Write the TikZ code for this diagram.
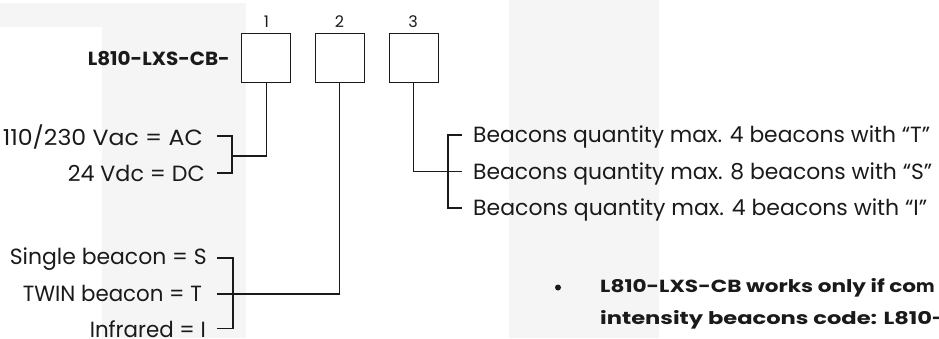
\documentclass[tikz,border=0pt]{standalone}
\usepackage{fontspec}
\usepackage{graphicx}
\setmainfont{Poppins}
\definecolor{bggrey}{HTML}{F5F5F5}
\definecolor{ink}{HTML}{1A1A1A}
\newcommand{\wfit}[2]{\resizebox{#1}{\height}{#2}}
\tikzset{
  wire/.style={line width=1.2pt, draw=ink},
  codebox/.style={draw=ink, line width=1.3pt, minimum width=49pt, minimum height=49pt, inner sep=0pt, fill=white},
  numlbl/.style={font=\fontsize{16}{16}\selectfont, text=ink, inner sep=0pt},
  optlbl/.style={font=\fontsize{22}{22}\selectfont, text=ink, inner sep=0pt},
  prefixlbl/.style={font=\fontsize{19}{19}\selectfont\bfseries, text=ink, inner sep=0pt},
  notelbl/.style={font=\fontsize{17.5}{17.5}\selectfont\bfseries, text=ink, inner sep=0pt},
}
\begin{document}
\begin{tikzpicture}[x=1pt,y=-1pt]
\useasboundingbox (0,0) rectangle (939,338);
\clip (0,0) rectangle (939,338);
% background watermark shapes
\fill[bggrey] (0,3) rectangle (246,27);
\fill[bggrey] (102,27) rectangle (246,338);
\fill[bggrey] (509,0) rectangle (659,338);

% code boxes
\node[codebox] (b1) at (266.3,57.8) {};
\node[codebox] (b2) at (339.7,57.8) {};
\node[codebox] (b3) at (413.7,57.8) {};
\node[numlbl] (n1) at (266.5,22) {1};
\node[numlbl] (n2) at (339.5,22) {2};
\node[numlbl] (n3) at (413,22) {3};
\node[prefixlbl, anchor=base east] (pre) at (230,65) {\wfit{142pt}{L810-LXS-CB-}};

% option 1 labels
\node[optlbl, anchor=base east] (ac) at (203,145) {\wfit{200pt}{110/230 Vac = AC}};
\node[optlbl, anchor=base east] (dc) at (205,181.5) {\wfit{137pt}{24 Vdc = DC}};
\coordinate (acT) at (217,136);
\coordinate (dcT) at (217,173);
\coordinate (j1) at (232,156);
\draw[wire] (acT) -| (j1) |- (dcT);
\draw[wire] (b1.south) |- (j1);

% option 2 labels
\node[optlbl, anchor=base east] (sb) at (207,264.5) {\wfit{197pt}{Single beacon = S}};
\node[optlbl, anchor=base east] (tb) at (202,301) {\wfit{179pt}{TWIN beacon = T}};
\node[optlbl, anchor=base east] (ir) at (206,337.5) {\wfit{116pt}{Infrared = I}};
\coordinate (sbT) at (217,258);
\coordinate (tbT) at (217,294);
\coordinate (irT) at (217,328.5);
\coordinate (j2) at (233,294);
\draw[wire] (sbT) -| (j2) |- (irT);
\draw[wire] (b2.south) |- (tbT);

% option 3 labels
\node[optlbl, anchor=base west] (q4t) at (473,142.5) {\wfit{457pt}{Beacons quantity max. 4 beacons with “T”}};
\node[optlbl, anchor=base west] (q8s) at (473,179) {\wfit{459pt}{Beacons quantity max. 8 beacons with “S”}};
\node[optlbl, anchor=base west] (q4i) at (473,215) {\wfit{454pt}{Beacons quantity max. 4 beacons with “I”}};
\coordinate (q4tT) at (462,135);
\coordinate (q8sT) at (462,171.7);
\coordinate (q4iT) at (462,208);
\coordinate (j3) at (448,171.7);
\draw[wire] (q4tT) -| (j3) |- (q4iT);
\draw[wire] (b3.south) |- (q8sT);

% note
\fill[ink] (558,287.5) circle (3pt);
\node[notelbl, anchor=base west] (note1) at (600,292.3) {\wfit{316pt}{L810-LXS-CB works only if co}m};
\node[notelbl, anchor=base west] (note2) at (600,324) {\wfit{332pt}{intensity beacons code: L810}-};
\end{tikzpicture}
\end{document}
